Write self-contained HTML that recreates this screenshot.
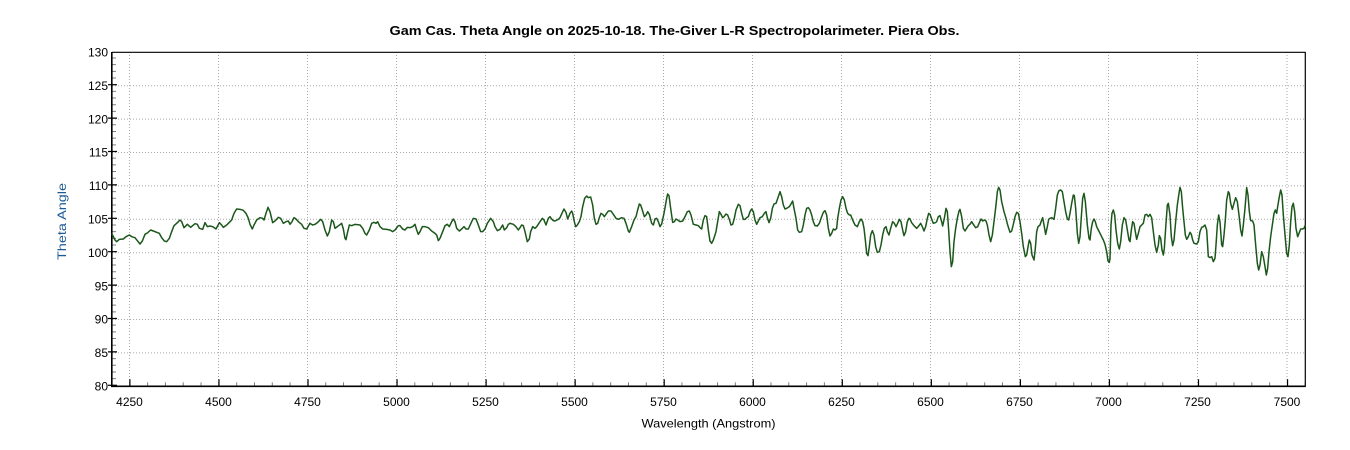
<!DOCTYPE html>
<html>
<head>
<meta charset="utf-8">
<style>
html,body{margin:0;padding:0;background:#fff;}
svg{display:block;}
text{font-family:"Liberation Sans",sans-serif;}
</style>
</head>
<body>
<svg width="1350" height="450" viewBox="0 0 1350 450" xmlns="http://www.w3.org/2000/svg">
<rect x="0" y="0" width="1350" height="450" fill="#fff"/>

<!-- title -->
<text x="674.5" y="35" text-anchor="middle" font-size="13" font-weight="bold" fill="#000" textLength="570" lengthAdjust="spacingAndGlyphs">Gam Cas. Theta Angle on 2025-10-18. The-Giver L-R Spectropolarimeter. Piera Obs.</text>

<!-- grid -->
<g stroke="#a8a8a8" stroke-width="1" stroke-dasharray="1,2" fill="none">
<line x1="112" y1="85.7" x2="1305" y2="85.7"/>
<line x1="112" y1="119.1" x2="1305" y2="119.1"/>
<line x1="112" y1="152.5" x2="1305" y2="152.5"/>
<line x1="112" y1="185.9" x2="1305" y2="185.9"/>
<line x1="112" y1="219.3" x2="1305" y2="219.3"/>
<line x1="112" y1="252.7" x2="1305" y2="252.7"/>
<line x1="112" y1="286.1" x2="1305" y2="286.1"/>
<line x1="112" y1="319.5" x2="1305" y2="319.5"/>
<line x1="112" y1="352.9" x2="1305" y2="352.9"/>
<line x1="129.5" y1="52" x2="129.5" y2="386"/>
<line x1="218.5" y1="52" x2="218.5" y2="386"/>
<line x1="307.5" y1="52" x2="307.5" y2="386"/>
<line x1="396.5" y1="52" x2="396.5" y2="386"/>
<line x1="485.5" y1="52" x2="485.5" y2="386"/>
<line x1="574.5" y1="52" x2="574.5" y2="386"/>
<line x1="663.5" y1="52" x2="663.5" y2="386"/>
<line x1="752.5" y1="52" x2="752.5" y2="386"/>
<line x1="841.5" y1="52" x2="841.5" y2="386"/>
<line x1="930.5" y1="52" x2="930.5" y2="386"/>
<line x1="1019.5" y1="52" x2="1019.5" y2="386"/>
<line x1="1108.5" y1="52" x2="1108.5" y2="386"/>
<line x1="1197.5" y1="52" x2="1197.5" y2="386"/>
<line x1="1287" y1="52" x2="1287" y2="386"/>
</g>

<!-- minor ticks -->
<line x1="111.5" y1="384.3" x2="1305" y2="384.3" stroke="#808080" stroke-width="4" stroke-dasharray="1,16.81"/>
<line x1="114" y1="385.8" x2="114" y2="52" stroke="#808080" stroke-width="4" stroke-dasharray="1,5.68"/>

<!-- major ticks -->
<line x1="129.3" y1="382.8" x2="1305" y2="382.8" stroke="#000" stroke-width="7" stroke-dasharray="1.2,87.85"/>
<line x1="112.5" y1="385.9" x2="112.5" y2="52" stroke="#000" stroke-width="9" stroke-dasharray="1.2,32.2"/>

<!-- frame -->
<line x1="112" y1="52.3" x2="1305.5" y2="52.3" stroke="#000" stroke-width="1.2"/>
<line x1="1305.3" y1="52" x2="1305.3" y2="386.5" stroke="#000" stroke-width="1.2"/>
<line x1="111.8" y1="52" x2="111.8" y2="387" stroke="#000" stroke-width="1.6"/>
<line x1="111" y1="386.3" x2="1305.8" y2="386.3" stroke="#000" stroke-width="1.6"/>

<!-- y labels -->
<g font-size="12" fill="#000" text-anchor="end">
<text x="108" y="56.5">130</text>
<text x="108" y="89.9">125</text>
<text x="108" y="123.3">120</text>
<text x="108" y="156.7">115</text>
<text x="108" y="190.1">110</text>
<text x="108" y="223.5">105</text>
<text x="108" y="256.9">100</text>
<text x="108" y="290.3">95</text>
<text x="108" y="323.7">90</text>
<text x="108" y="357.1">85</text>
<text x="108" y="390.5">80</text>
</g>

<!-- x labels -->
<g font-size="12" fill="#000" text-anchor="middle">
<text x="129.5" y="406">4250</text>
<text x="218.5" y="406">4500</text>
<text x="307.5" y="406">4750</text>
<text x="396.5" y="406">5000</text>
<text x="485.5" y="406">5250</text>
<text x="574.5" y="406">5500</text>
<text x="663.5" y="406">5750</text>
<text x="752.5" y="406">6000</text>
<text x="841.5" y="406">6250</text>
<text x="930.5" y="406">6500</text>
<text x="1019.5" y="406">6750</text>
<text x="1108.5" y="406">7000</text>
<text x="1197.5" y="406">7250</text>
<text x="1287" y="406">7500</text>
</g>

<text x="708.5" y="427.5" text-anchor="middle" font-size="12" fill="#000" textLength="134" lengthAdjust="spacingAndGlyphs">Wavelength (Angstrom)</text>
<text transform="translate(66,221.5) rotate(-90)" text-anchor="middle" font-size="12" fill="#1e5a96" textLength="77" lengthAdjust="spacingAndGlyphs">Theta Angle</text>

<!-- series -->
<g fill="none" stroke="#1b571b" stroke-width="1.5" stroke-linejoin="round" stroke-linecap="round">
<polyline vector-effect="non-scaling-stroke" transform="translate(110,175) scale(0.33333)" points="6,177 15,195 20,200 28,193 40,192 48,185 58,180 65,185 75,188 82,197 90,207 97,198 105,178 112,174 122,165 130,168 140,172 148,175 155,188 163,198 170,200 178,190 185,170 192,152 200,145 210,135 215,140 222,158 232,148 242,157 255,146 262,148 268,160 278,163 285,143 292,155 300,153 308,155 318,162 328,143 335,150 340,157 350,150 360,140 365,135 372,115 380,102 390,103 400,106 408,115 415,130 420,148 427,162 432,150 440,135 450,128 458,130 462,135 468,115 474,97 480,110 488,143 495,138 505,127 512,130 520,145 528,140 535,138 540,148 546,140 552,128 558,132 565,140 575,148 582,160 590,162 597,150 600,145"/>
<polyline vector-effect="non-scaling-stroke" transform="translate(310,175) scale(0.33333)" points="0,145 8,150 15,148 22,143 32,133 38,140 45,165 52,183 58,170 65,135 70,140 75,160 82,155 95,145 100,162 105,190 108,194 112,175 118,150 125,152 135,148 150,150 158,160 165,175 170,180 178,165 185,145 192,142 198,145 203,140 210,155 218,162 230,163 240,165 248,170 255,165 265,152 270,152 278,162 285,165 292,157 300,158 308,155 315,148 320,165 325,178 330,170 337,155 345,155 355,158 365,168 375,175 380,180 385,197 390,190 398,170 405,152 412,148 418,155 425,140 430,132 435,140 440,160 448,168 455,162 462,155 468,162 475,162 485,140 490,130 498,132 505,150 512,170 518,170 525,162 532,145 542,130 550,140 555,155 562,167 570,163 578,150 583,165 590,158 595,148 600,145"/>
<polyline vector-effect="non-scaling-stroke" transform="translate(510,175) scale(0.33333)" points="0,145 10,148 18,155 25,165 30,158 35,150 40,152 45,170 52,200 58,192 62,170 68,155 75,160 80,155 90,140 97,130 102,135 108,150 115,130 120,125 125,132 130,137 135,138 145,133 150,128 158,110 162,102 168,112 173,132 180,115 185,108 188,115 193,140 197,155 202,150 208,140 213,125 218,95 224,70 230,63 235,68 242,66 248,90 253,130 258,148 263,145 268,128 273,115 278,118 283,125 290,115 295,108 303,108 310,118 318,130 325,133 335,128 342,130 348,145 355,168 358,172 365,155 372,135 378,125 383,105 388,87 392,90 397,105 403,125 408,120 413,110 418,118 425,145 430,150 435,132 440,130 445,140 450,155 455,147 462,115 470,70 473,57 477,62 482,100 488,142 493,140 498,132 503,135 510,140 518,138 525,125 532,110 538,108 543,120 550,148 558,150 565,152 570,158 575,162 580,135 585,122 590,125 595,165 600,198"/>
<polyline vector-effect="non-scaling-stroke" transform="translate(710,175) scale(0.33333)" points="0,198 5,205 10,195 18,170 23,140 28,110 33,118 38,128 42,125 48,117 53,120 58,133 63,150 68,148 73,130 78,105 85,88 90,92 95,115 100,133 105,133 110,128 115,125 120,110 125,102 130,110 135,135 140,148 145,138 150,128 157,125 163,115 168,110 172,128 177,143 182,130 187,100 192,87 198,85 205,65 210,50 215,65 220,90 225,102 230,100 238,95 243,87 248,78 252,100 258,130 263,165 268,172 275,170 280,150 285,120 290,100 295,98 300,105 305,120 310,140 315,152 322,153 328,145 335,125 340,112 345,107 350,120 355,160 360,183 365,175 370,162 375,165 380,160 383,130 388,100 393,75 398,65 403,75 408,100 413,115 418,120 422,120 428,135 435,150 442,155 448,140 453,132 458,140 462,160 466,195 470,235 474,242 478,215 482,180 487,167 492,180 497,215 502,232 508,230 513,210 518,180 523,160 528,155 532,170 537,180 542,160 548,140 553,145 558,155 563,145 568,133 573,140 578,165 582,182 587,170 592,140 597,130 600,132"/>
<polyline vector-effect="non-scaling-stroke" transform="translate(910,175) scale(0.33333)" points="0,132 5,143 12,152 20,160 27,152 32,145 37,155 42,168 47,155 52,130 56,115 60,118 65,132 70,145 76,143 80,140 85,125 90,122 95,140 98,153 103,130 108,100 112,110 116,165 120,230 124,275 128,260 132,200 137,160 142,130 147,108 150,103 155,125 160,160 165,168 170,160 175,152 180,148 185,140 190,148 197,158 203,155 208,143 213,132 218,138 223,135 228,138 232,150 237,180 242,200 247,180 252,140 258,90 262,50 266,37 270,45 275,80 282,110 288,130 293,150 300,172 305,168 310,148 315,125 320,112 325,115 330,140 335,175 340,215 346,245 350,240 355,210 358,195 362,205 366,240 372,255 376,220 380,170 384,155 390,150 395,135 398,128 402,150 407,178 412,155 416,133 420,130 425,128 432,133 437,100 442,60 447,47 452,45 457,50 462,80 467,110 472,132 476,135 480,115 485,85 490,60 493,62 497,100 502,175 506,205 510,185 514,125 518,70 522,55 526,80 532,150 537,190 540,195 544,160 548,140 552,132 556,140 560,155 565,165 570,175 575,185 580,195 585,208 590,230 594,258 598,262 600,250"/>
<polyline vector-effect="non-scaling-stroke" transform="translate(1110,175) scale(0.33333)" points="0,250 3,150 6,115 10,105 14,120 18,165 23,205 28,222 32,200 37,150 42,128 47,135 52,165 57,195 60,200 64,165 68,140 72,145 76,170 80,193 85,175 90,155 95,150 100,145 105,120 110,118 115,125 120,118 125,128 130,170 135,210 140,232 145,210 148,182 152,190 156,225 160,240 163,220 167,160 172,90 175,85 180,120 184,185 188,212 192,195 197,140 202,90 207,55 210,37 214,50 218,100 222,140 226,180 230,193 235,185 240,172 244,178 248,195 252,205 260,207 265,200 270,170 275,157 280,155 285,150 290,165 295,245 300,248 305,245 310,260 315,250 318,210 322,150 326,120 330,140 335,210 338,215 342,180 346,135 350,75 355,50 358,55 362,85 367,103 372,85 377,68 382,80 387,120 392,165 396,183 400,150 405,100 410,38 414,60 418,110 422,137 428,138 432,150 437,210 442,265 446,285 450,270 455,230 460,245 465,275 469,300 473,280 477,230 482,185 487,150 492,115 496,105 500,115 503,95 508,65 512,45 516,60 520,120 525,180 530,235 534,245 538,210 542,140 546,95 550,85 554,110 558,160 563,185 567,175 572,162 577,162 582,160 585,152 586,152"/>
</g>
</svg>
</body>
</html>
